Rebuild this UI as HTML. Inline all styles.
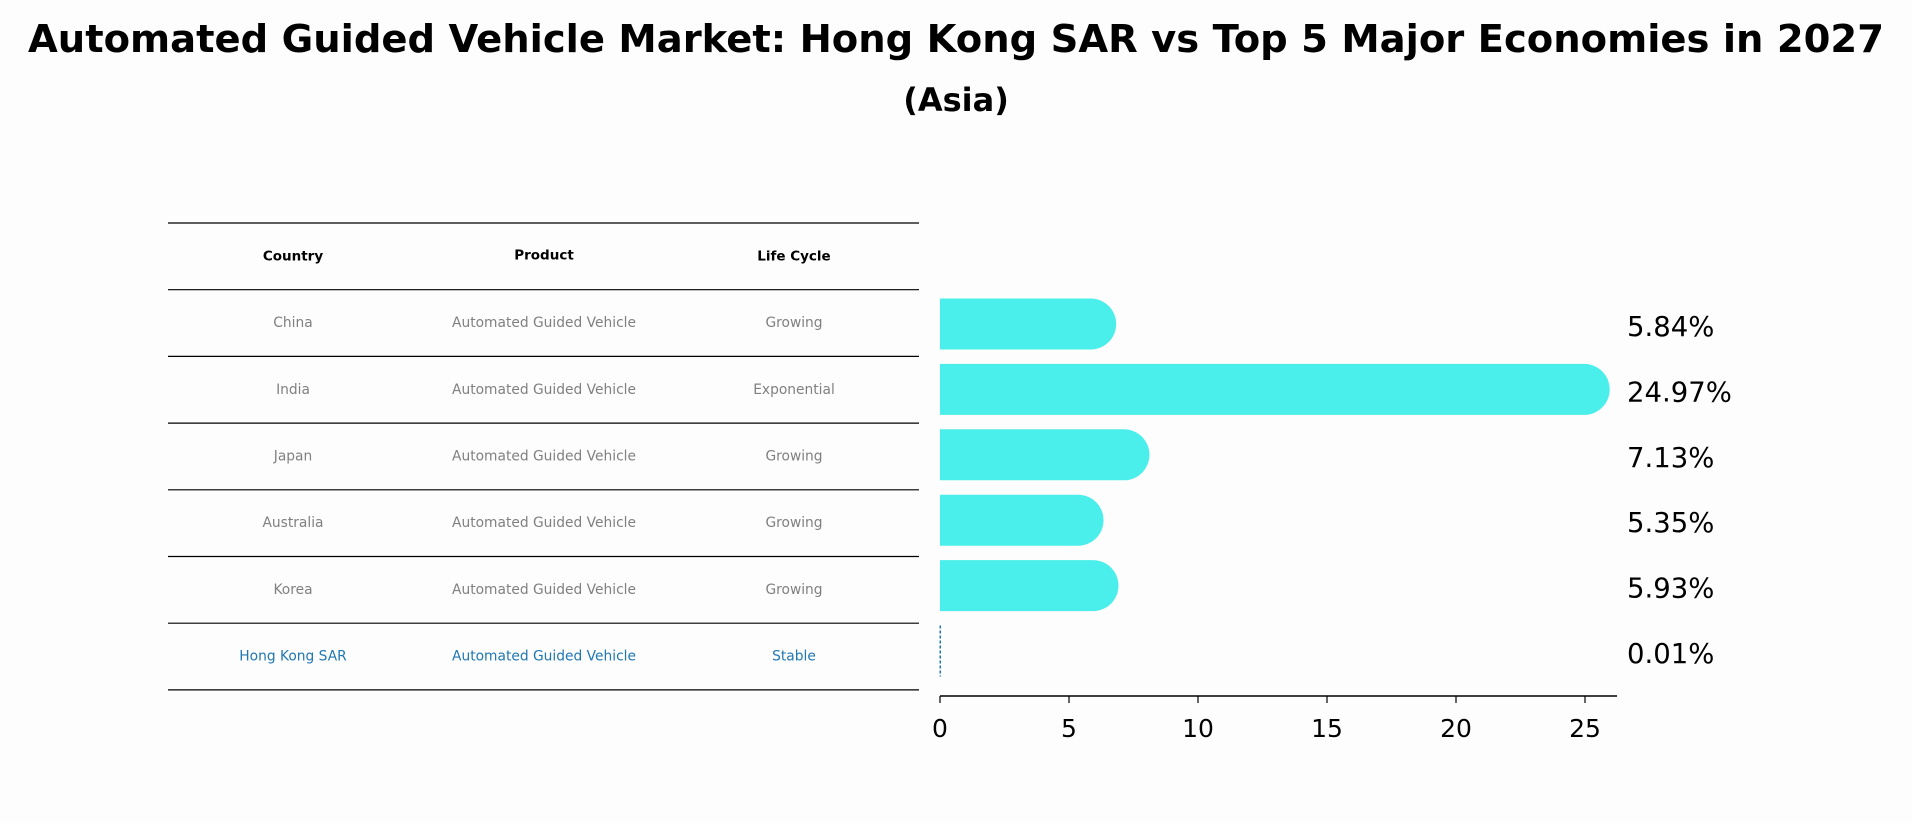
<!DOCTYPE html>
<html><head><meta charset="utf-8"><style>
html,body{margin:0;padding:0;background:#fdfdfd;}
svg{display:block;font-family:"DejaVu Sans","Liberation Sans",sans-serif;}
</style></head><body>
<svg id="chart" width="1912" height="823" viewBox="0 0 1912 823" xmlns="http://www.w3.org/2000/svg">
<rect width="1912" height="823" fill="#fdfdfd"/>
<text x="956" y="52" text-anchor="middle" font-size="38.5" font-weight="bold" fill="#000">Automated Guided Vehicle Market: Hong Kong SAR vs Top 5 Major Economies in 2027</text>
<text x="956" y="111" text-anchor="middle" font-size="32" font-weight="bold" fill="#000">(Asia)</text>
<g id="table"></g>
<g id="bars"></g>
</svg>
<script>
const countries = ["China","India","Japan","Australia","Korea","Hong Kong SAR"];
const products = ["Automated Guided Vehicle","Automated Guided Vehicle","Automated Guided Vehicle","Automated Guided Vehicle","Automated Guided Vehicle","Automated Guided Vehicle"];
const lifeCycles = ["Growing","Exponential","Growing","Growing","Growing","Stable"];
const values = [5.84,24.97,7.13,5.35,5.93,0.01];
const valueLabels = ["5.84%","24.97%","7.13%","5.35%","5.93%","0.01%"];
const xTicks = [0,5,10,15,20,25];

const NS="http://www.w3.org/2000/svg";
function mk(tag,attrs,parent){const e=document.createElementNS(NS,tag);for(const k in attrs)e.setAttribute(k,attrs[k]);parent.appendChild(e);return e;}
const table=document.getElementById('table');
const bars=document.getElementById('bars');

const tX0=168,tX1=919,rowTop=223,rowH=66.7;
const colX=[293,544,794];
function rowLine(i){return rowTop+i*rowH;}
for(let i=0;i<=countries.length+1;i++){
  const l=mk('line',{x1:tX0,x2:tX1,y1:rowLine(i),y2:rowLine(i),stroke:'#000','stroke-width':1.2},table);
  
  
}
const headers=["Country","Product","Life Cycle"];
headers.forEach((h,j)=>{
  const t=mk('text',{x:colX[j],y:rowLine(0)+rowH/2+4+(j===1?-1:0),'text-anchor':'middle','font-size':13.5,'font-weight':'bold',fill:'#000'},table);
  t.textContent=h;
  
  
});
countries.forEach((c,i)=>{
  const last=i===countries.length-1;
  const col=last?'#1f77b4':'#808080';
  [c,products[i],lifeCycles[i]].forEach((v,j)=>{
    const t=mk('text',{x:colX[j],y:rowLine(i+1)+rowH/2+4,'text-anchor':'middle','font-size':13.8,fill:col},table);
    t.textContent=v;
    
    
  });
});

const x0=940,pxPer=(1585-940)/25;
function xs(v){return x0+v*pxPer;}
const barH=51;
function yc(i){return 324+i*65.4;}
values.forEach((v,i)=>{
  if(i===values.length-1){
    const l=mk('line',{x1:xs(v),x2:xs(v),y1:yc(i)-barH/2,y2:yc(i)+barH/2,stroke:'#1f77b4','stroke-width':1.5,'stroke-dasharray':'3,2'},bars);
    
    
  } else {
    const w=xs(v)-x0, r=barH/2;
    const p=mk('path',{d:`M${x0},${yc(i)-r} H${x0+w} A${r},${r} 0 0 1 ${x0+w},${yc(i)+r} H${x0} Z`,fill:'#4aeeea'},bars);
    
    
  }
  const t=mk('text',{x:1627,y:yc(i)+12,'font-size':27.5,fill:'#000'},bars);
  t.textContent=valueLabels[i];
  
  
});
const ax=mk('line',{x1:x0,x2:1617,y1:696,y2:696,stroke:'#000','stroke-width':1.5},bars);


xTicks.forEach(v=>{
  const tk=mk('line',{x1:xs(v),x2:xs(v),y1:696,y2:703,stroke:'#000','stroke-width':1.2},bars);
  
  
  const t=mk('text',{x:xs(v),y:737,'text-anchor':'middle','font-size':25,fill:'#000'},bars);
  t.textContent=v;
  
  
});
</script>
</body></html>
